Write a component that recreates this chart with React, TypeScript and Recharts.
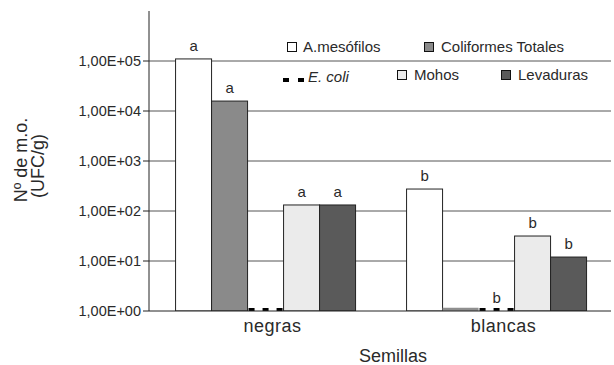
import { BarChart, Bar, XAxis, YAxis, CartesianGrid, LabelList } from 'recharts';

const categories = ['negras', 'blancas'];
const mesofilos = [110000, 275];
const coliformes = [15800, 1];
const eColi = [1, 1];
const mohos = [132, 31.6];
const levaduras = [132, 12];

const mesofilosLetters = ['a', 'b'];
const coliformesLetters = ['a', ''];
const eColiLetters = ['', 'b'];
const mohosLetters = ['a', 'b'];
const levadurasLetters = ['a', 'b'];

const yTicks = [1, 10, 100, 1000, 10000, 100000];
const gridValues = [10, 100, 1000, 10000, 100000];

const FONT = '"Liberation Sans", Arial, sans-serif';
const TEXT = '#2a2a2a';

const series = [
  { key: 'mes', name: 'A.mesófilos', fill: '#ffffff', values: mesofilos, letters: mesofilosLetters },
  { key: 'col', name: 'Coliformes Totales', fill: '#8a8a8a', values: coliformes, letters: coliformesLetters },
  { key: 'eco', name: 'E. coli', fill: '#000000', values: eColi, letters: eColiLetters, dashed: true },
  { key: 'moh', name: 'Mohos', fill: '#ebebeb', values: mohos, letters: mohosLetters },
  { key: 'lev', name: 'Levaduras', fill: '#5a5a5a', values: levaduras, letters: levadurasLetters },
];

const data = categories.map((name, i) => {
  const row: Record<string, string | number> = { name };
  series.forEach((s) => {
    row[s.key] = s.values[i];
    row[s.key + 'L'] = s.letters[i];
  });
  return row;
});

function BarShape(props: any) {
  const { x, y, width, height, fill, dashed } = props;
  const base = y + height;
  if (dashed) {
    return (
      <line x1={x + 1} x2={x + width} y1={base - 1} y2={base - 1} stroke="#000" strokeWidth={4} strokeDasharray="6 8" />
    );
  }
  if (height < 1.5) {
    return <line x1={x} x2={x + width} y1={base - 1.5} y2={base - 1.5} stroke="#8f8f8f" strokeWidth={3.5} />;
  }
  return <rect x={x} y={y} width={width} height={height} fill={fill} stroke="#222" strokeWidth={1} />;
}

function Letter(props: any) {
  const { x, y, width, value } = props;
  if (!value) return null;
  return (
    <text x={x + width / 2} y={y - 8} textAnchor="middle" fontSize={15} fontFamily={FONT} fill={TEXT}>
      {value}
    </text>
  );
}

const fmtTick = (v: number) => `1,00E+${String(Math.round(Math.log10(v))).padStart(2, '0')}`;

function YTitle() {
  return (
    <g fontFamily={FONT} fontSize={18} fill={TEXT}>
      <text transform="translate(27,160) rotate(-90)" textAnchor="middle">Nº de m.o.</text>
      <text transform="translate(44,166) rotate(-90)" textAnchor="middle">(UFC/g)</text>
    </g>
  );
}

function LegendOverlay() {
  const sq = { stroke: '#111', strokeWidth: 1 };
  return (
    <svg width={614} height={100} style={{ position: 'absolute', left: 0, top: 0, pointerEvents: 'none' }}>
      <g fontFamily={FONT} fontSize={15} fill={TEXT}>
        <rect x={287.5} y={42.5} width={9} height={9} fill={series[0].fill} {...sq} />
        <text x={303} y={52}>{series[0].name}</text>
        <rect x={424.5} y={42.5} width={9} height={9} fill={series[1].fill} {...sq} />
        <text x={441} y={52}>{series[1].name}</text>
        <line x1={283} x2={305} y1={80} y2={80} stroke="#000" strokeWidth={4} strokeDasharray="6 9" />
        <text x={308} y={82} fontStyle="italic">{series[2].name}</text>
        <rect x={397.5} y={70.5} width={9} height={9} fill={series[3].fill} {...sq} />
        <text x={414} y={80}>{series[3].name}</text>
        <rect x={501.5} y={70.5} width={9} height={9} fill={series[4].fill} {...sq} />
        <text x={518} y={80}>{series[4].name}</text>
      </g>
    </svg>
  );
}

export default function App() {
  return (
    <div style={{ position: 'absolute', left: 0, top: 0, width: 614, height: 365, background: '#fff' }}>
      <BarChart
        width={614}
        height={365}
        data={data}
        margin={{ top: 11, right: 3, bottom: 0, left: 0 }}
        barCategoryGap="11.5%"
        barGap={0}
      >
        <CartesianGrid
          horizontal
          vertical={false}
          horizontalValues={gridValues}
          stroke="#555"
          strokeWidth={1}
        />
        <XAxis
          dataKey="name"
          height={54}
          tickLine={false}
          axisLine={{ stroke: '#222' }}
          tick={{ fontSize: 18, fontFamily: FONT, fill: TEXT, dx: 8, letterSpacing: 0.5 } as any}
          label={{ value: 'Semillas', position: 'insideBottom', offset: 3, dx: 13, fontSize: 18, fontFamily: FONT, fill: TEXT }}
        />
        <YAxis
          scale="log"
          type="number"
          domain={[1, 1000000]}
          ticks={yTicks}
          allowDataOverflow
          width={149}
          tickFormatter={fmtTick}
          tickSize={6}
          tickLine={{ stroke: '#222' }}
          axisLine={{ stroke: '#222' }}
          tick={{ fontSize: 14.5, fontFamily: FONT, fill: TEXT }}
          label={<YTitle />}
        />
        {series.map((s) => (
          <Bar
            key={s.key}
            dataKey={s.key}
            name={s.name}
            fill={s.fill}
            isAnimationActive={false}
            shape={(p: any) => <BarShape {...p} fill={s.fill} dashed={s.dashed} />}
          >
            <LabelList dataKey={s.key + 'L'} content={<Letter />} />
          </Bar>
        ))}
      </BarChart>
      <LegendOverlay />
    </div>
  );
}
